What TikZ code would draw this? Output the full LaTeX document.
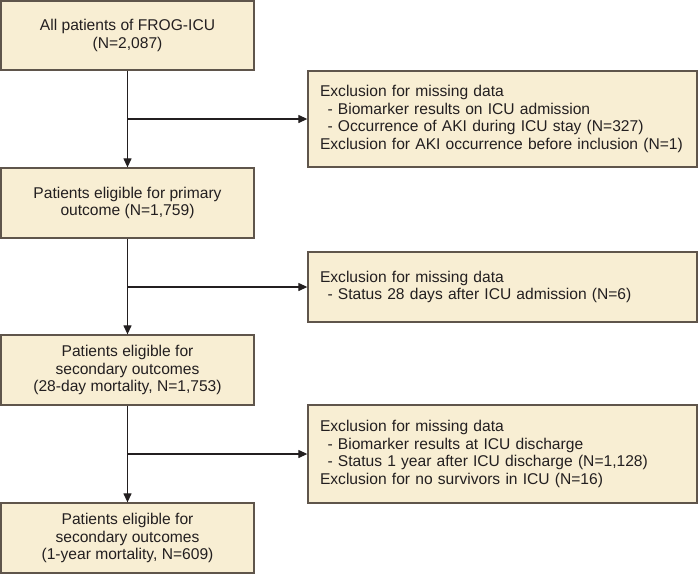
\documentclass[tikz,border=0pt]{standalone}
\usepackage{fontspec}
\setmainfont{Liberation Sans}
\usetikzlibrary{arrows.meta}
\definecolor{boxfill}{RGB}{248,238,211}
\definecolor{boxdraw}{RGB}{95,85,75}
\definecolor{linecol}{RGB}{35,31,32}
\begin{document}
\begin{tikzpicture}[x=1pt,y=-1pt,
  every node/.style={font=\fontsize{15.6pt}{17.6pt}\selectfont, text=linecol, inner sep=0pt},
  leftbox/.style={draw=boxdraw, fill=boxfill, line width=1.3pt, minimum width=253pt, align=center},
  rightbox/.style={draw=boxdraw, fill=boxfill, line width=1.3pt, minimum width=389pt, align=left, text width=365pt},
  conn/.style={draw=linecol, line width=1.2pt},
  arr/.style={conn, -{Triangle[length=9pt,width=8pt]}}]
\useasboundingbox (0,0) rectangle (698,574);
\node[leftbox, minimum height=69pt] (b1) at (127.5,35.5) {All patients of FROG-ICU\\(N=2,087)};
\node[leftbox, minimum height=70pt] (b2) at (127.5,203) {Patients eligible for primary\\outcome (N=1,759)};
\node[leftbox, minimum height=70pt] (b3) at (127.5,370) {Patients eligible for\\secondary outcomes\\(28-day mortality, N=1,753)};
\node[leftbox, minimum height=70pt] (b4) at (127.5,538) {Patients eligible for\\secondary outcomes\\(1-year mortality, N=609)};
\node[rightbox, minimum height=96pt] (r1) at (502.5,119) {Exclusion for missing data\\\hspace*{7.5pt}- Biomarker results on ICU admission\\\hspace*{7.5pt}- Occurrence of AKI during ICU stay (N=327)\\Exclusion for AKI occurrence before inclusion (N=1)};
\node[rightbox, minimum height=70pt] (r2) at (502.5,287) {Exclusion for missing data\\\hspace*{7.5pt}- Status 28 days after ICU admission (N=6)};
\node[rightbox, minimum height=98pt] (r3) at (502.5,454) {Exclusion for missing data\\\hspace*{7.5pt}- Biomarker results at ICU discharge\\\hspace*{7.5pt}- Status 1 year after ICU discharge (N=1,128)\\Exclusion for no survivors in ICU (N=16)};
\draw[arr] (b1.south) -- (b2.north);
\draw[arr] (b2.south) -- (b3.north);
\draw[arr] (b3.south) -- (b4.north);
\draw[arr] (b1.south |- r1.west) -- (r1.west);
\draw[arr] (b2.south |- r2.west) -- (r2.west);
\draw[arr] (b3.south |- r3.west) -- (r3.west);
\end{tikzpicture}
\end{document}
